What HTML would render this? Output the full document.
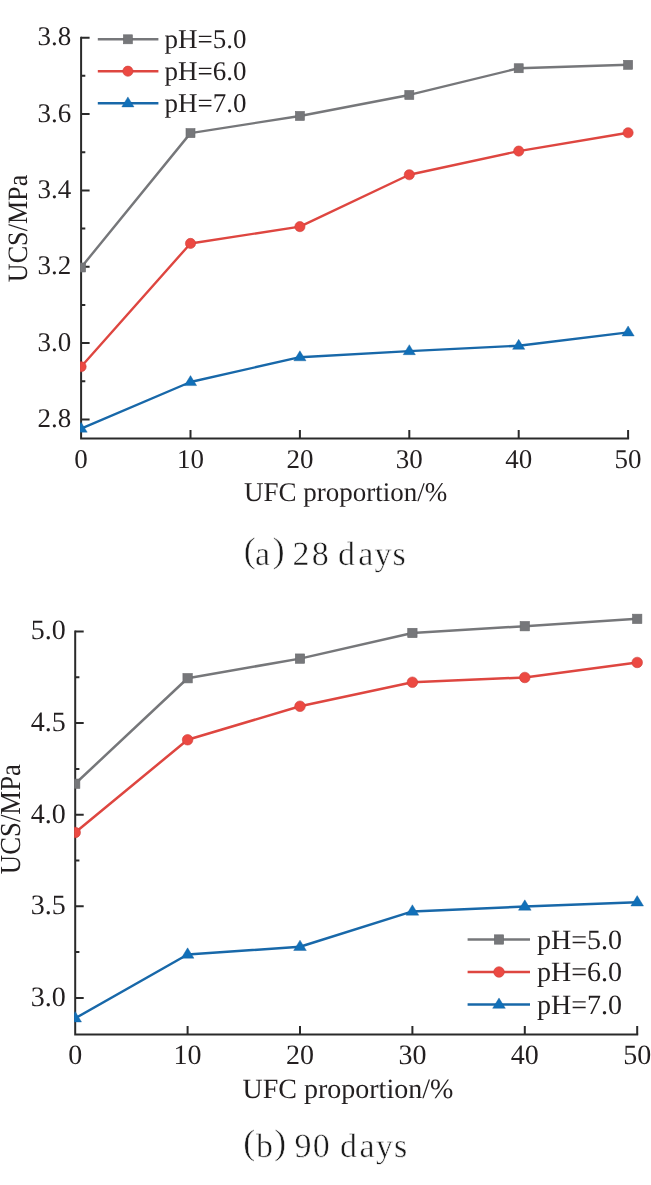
<!DOCTYPE html>
<html><head><meta charset="utf-8"><style>
html,body{margin:0;padding:0;background:#fff;}
body{width:651px;height:1185px;overflow:hidden;}
svg{display:block;will-change:transform;}
text{text-rendering:geometricPrecision;}
.t{font-family:"Liberation Serif",serif;font-size:27px;fill:#231f20;}
.cap{font-family:"Liberation Serif",serif;font-size:34px;fill:#1a1a1a;stroke:#fff;stroke-width:0.5px;}
</style></head><body>
<svg width="651" height="1185" viewBox="0 0 651 1185">
<rect width="651" height="1185" fill="#fff"/>
<clipPath id="ca"><rect x="80.1" y="0" width="577" height="439.6"/></clipPath>
<path d="M81.1,36.7 V438.6 H629.1" fill="none" stroke="#2a2a2a" stroke-width="2.0" stroke-linejoin="miter" stroke-linecap="butt"/>
<path d="M190.5,438.6 V430.1 M299.9,438.6 V430.1 M409.3,438.6 V430.1 M518.7,438.6 V430.1 M628.1,438.6 V430.1 M81.1,419.4 H89.6 M81.1,381.23 H85.3 M81.1,343.06 H89.6 M81.1,304.89 H85.3 M81.1,266.72 H89.6 M81.1,228.55 H85.3 M81.1,190.38 H89.6 M81.1,152.21 H85.3 M81.1,114.04 H89.6 M81.1,75.87 H85.3 M81.1,37.7 H89.6" stroke="#2a2a2a" stroke-width="2.0" fill="none"/>
<g clip-path="url(#ca)">
<polyline points="81.1,267.48 190.5,133.12 299.9,115.95 409.3,94.95 518.7,68.24 628.1,64.8" fill="none" stroke="#76777a" stroke-width="2.4" stroke-linejoin="round"/>
<polyline points="81.1,366.73 190.5,243.44 299.9,226.64 409.3,174.73 518.7,151.06 628.1,132.74" fill="none" stroke="#de4640" stroke-width="2.4" stroke-linejoin="round"/>
<polyline points="81.1,428.56 190.5,381.99 299.9,357.18 409.3,351.08 518.7,345.73 628.1,332.37" fill="none" stroke="#1868a9" stroke-width="2.4" stroke-linejoin="round"/>
<rect x="76.6" y="262.98" width="9" height="9" fill="#76777a" stroke="#6a6b6e" stroke-width="0.6"/>
<rect x="186" y="128.62" width="9" height="9" fill="#76777a" stroke="#6a6b6e" stroke-width="0.6"/>
<rect x="295.4" y="111.45" width="9" height="9" fill="#76777a" stroke="#6a6b6e" stroke-width="0.6"/>
<rect x="404.8" y="90.45" width="9" height="9" fill="#76777a" stroke="#6a6b6e" stroke-width="0.6"/>
<rect x="514.2" y="63.74" width="9" height="9" fill="#76777a" stroke="#6a6b6e" stroke-width="0.6"/>
<rect x="623.6" y="60.3" width="9" height="9" fill="#76777a" stroke="#6a6b6e" stroke-width="0.6"/>
<circle cx="81.1" cy="366.73" r="5.1" fill="#ec4942" stroke="#cc403a" stroke-width="0.6"/>
<circle cx="190.5" cy="243.44" r="5.1" fill="#ec4942" stroke="#cc403a" stroke-width="0.6"/>
<circle cx="299.9" cy="226.64" r="5.1" fill="#ec4942" stroke="#cc403a" stroke-width="0.6"/>
<circle cx="409.3" cy="174.73" r="5.1" fill="#ec4942" stroke="#cc403a" stroke-width="0.6"/>
<circle cx="518.7" cy="151.06" r="5.1" fill="#ec4942" stroke="#cc403a" stroke-width="0.6"/>
<circle cx="628.1" cy="132.74" r="5.1" fill="#ec4942" stroke="#cc403a" stroke-width="0.6"/>
<path d="M81.1,422.16 L87.2,432.16 L75,432.16 Z" fill="#1170b9" stroke="#175f9c" stroke-width="0.4" stroke-linejoin="miter"/>
<path d="M190.5,375.59 L196.6,385.59 L184.4,385.59 Z" fill="#1170b9" stroke="#175f9c" stroke-width="0.4" stroke-linejoin="miter"/>
<path d="M299.9,350.78 L306,360.78 L293.8,360.78 Z" fill="#1170b9" stroke="#175f9c" stroke-width="0.4" stroke-linejoin="miter"/>
<path d="M409.3,344.68 L415.4,354.68 L403.2,354.68 Z" fill="#1170b9" stroke="#175f9c" stroke-width="0.4" stroke-linejoin="miter"/>
<path d="M518.7,339.33 L524.8,349.33 L512.6,349.33 Z" fill="#1170b9" stroke="#175f9c" stroke-width="0.4" stroke-linejoin="miter"/>
<path d="M628.1,325.97 L634.2,335.97 L622,335.97 Z" fill="#1170b9" stroke="#175f9c" stroke-width="0.4" stroke-linejoin="miter"/>
</g>
<text x="81.1" y="467.8" text-anchor="middle" class="t" style="font-size:27px">0</text>
<text x="190.5" y="467.8" text-anchor="middle" class="t" style="font-size:27px">10</text>
<text x="299.9" y="467.8" text-anchor="middle" class="t" style="font-size:27px">20</text>
<text x="409.3" y="467.8" text-anchor="middle" class="t" style="font-size:27px">30</text>
<text x="518.7" y="467.8" text-anchor="middle" class="t" style="font-size:27px">40</text>
<text x="628.1" y="467.8" text-anchor="middle" class="t" style="font-size:27px">50</text>
<text x="71.2" y="427.1" text-anchor="end" class="t" style="font-size:27px">2.8</text>
<text x="71.2" y="350.76" text-anchor="end" class="t" style="font-size:27px">3.0</text>
<text x="71.2" y="274.42" text-anchor="end" class="t" style="font-size:27px">3.2</text>
<text x="71.2" y="198.08" text-anchor="end" class="t" style="font-size:27px">3.4</text>
<text x="71.2" y="121.74" text-anchor="end" class="t" style="font-size:27px">3.6</text>
<text x="71.2" y="45.4" text-anchor="end" class="t" style="font-size:27px">3.8</text>
<text x="244" y="500.5" class="t" style="font-size:27px">UFC proportion/%</text>
<text transform="translate(27.3,282.15) rotate(-90) scale(0.9326,1)" class="t" style="font-size:28px">UCS/MPa</text>
<line x1="97.8" y1="39.3" x2="158.4" y2="39.3" stroke="#76777a" stroke-width="2.4"/>
<rect x="123.4" y="34.8" width="9" height="9" fill="#76777a" stroke="#6a6b6e" stroke-width="0.6"/>
<text x="164.5" y="48" class="t" style="font-size:27px">pH=5.0</text>
<line x1="97.8" y1="71.2" x2="158.4" y2="71.2" stroke="#de4640" stroke-width="2.4"/>
<circle cx="127.9" cy="71.2" r="5.1" fill="#ec4942" stroke="#cc403a" stroke-width="0.6"/>
<text x="164.5" y="80" class="t" style="font-size:27px">pH=6.0</text>
<line x1="97.8" y1="103.3" x2="158.4" y2="103.3" stroke="#1868a9" stroke-width="2.4"/>
<path d="M127.9,96.9 L134,106.9 L121.8,106.9 Z" fill="#1170b9" stroke="#175f9c" stroke-width="0.4" stroke-linejoin="miter"/>
<text x="164.5" y="111.8" class="t" style="font-size:27px">pH=7.0</text>
<text x="243.8 272.81" y="561.6" class="cap" style="font-size:35.6px">()</text>
<text x="255.11 292.4 311.71 337.88 358.21 374.59 392.61" y="565" class="cap">a28days</text>
<clipPath id="cb"><rect x="74.2" y="0" width="592" height="1035.4"/></clipPath>
<path d="M75.2,630.5 V1034.4 H638.2" fill="none" stroke="#2a2a2a" stroke-width="2.0" stroke-linejoin="miter" stroke-linecap="butt"/>
<path d="M187.6,1034.4 V1025.9 M300,1034.4 V1025.9 M412.4,1034.4 V1025.9 M524.8,1034.4 V1025.9 M637.2,1034.4 V1025.9 M75.2,997.9 H83.7 M75.2,952.1 H79.4 M75.2,906.3 H83.7 M75.2,860.5 H79.4 M75.2,814.7 H83.7 M75.2,768.9 H79.4 M75.2,723.1 H83.7 M75.2,677.3 H79.4 M75.2,631.5 H83.7" stroke="#2a2a2a" stroke-width="2.0" fill="none"/>
<g clip-path="url(#cb)">
<polyline points="75.2,783.74 187.6,678.22 300,658.61 412.4,632.97 524.8,626.19 637.2,618.86" fill="none" stroke="#76777a" stroke-width="2.5" stroke-linejoin="round"/>
<polyline points="75.2,832.47 187.6,739.77 300,706.25 412.4,682.25 524.8,677.48 637.2,662.46" fill="none" stroke="#de4640" stroke-width="2.5" stroke-linejoin="round"/>
<polyline points="75.2,1018.24 187.6,954.48 300,946.79 412.4,911.43 524.8,906.48 637.2,902.27" fill="none" stroke="#1868a9" stroke-width="2.5" stroke-linejoin="round"/>
<rect x="70.52" y="779.06" width="9.36" height="9.36" fill="#76777a" stroke="#6a6b6e" stroke-width="0.6"/>
<rect x="182.92" y="673.54" width="9.36" height="9.36" fill="#76777a" stroke="#6a6b6e" stroke-width="0.6"/>
<rect x="295.32" y="653.93" width="9.36" height="9.36" fill="#76777a" stroke="#6a6b6e" stroke-width="0.6"/>
<rect x="407.72" y="628.29" width="9.36" height="9.36" fill="#76777a" stroke="#6a6b6e" stroke-width="0.6"/>
<rect x="520.12" y="621.51" width="9.36" height="9.36" fill="#76777a" stroke="#6a6b6e" stroke-width="0.6"/>
<rect x="632.52" y="614.18" width="9.36" height="9.36" fill="#76777a" stroke="#6a6b6e" stroke-width="0.6"/>
<circle cx="75.2" cy="832.47" r="5.3" fill="#ec4942" stroke="#cc403a" stroke-width="0.6"/>
<circle cx="187.6" cy="739.77" r="5.3" fill="#ec4942" stroke="#cc403a" stroke-width="0.6"/>
<circle cx="300" cy="706.25" r="5.3" fill="#ec4942" stroke="#cc403a" stroke-width="0.6"/>
<circle cx="412.4" cy="682.25" r="5.3" fill="#ec4942" stroke="#cc403a" stroke-width="0.6"/>
<circle cx="524.8" cy="677.48" r="5.3" fill="#ec4942" stroke="#cc403a" stroke-width="0.6"/>
<circle cx="637.2" cy="662.46" r="5.3" fill="#ec4942" stroke="#cc403a" stroke-width="0.6"/>
<path d="M75.2,1011.58 L81.54,1021.98 L68.86,1021.98 Z" fill="#1170b9" stroke="#175f9c" stroke-width="0.4" stroke-linejoin="miter"/>
<path d="M187.6,947.83 L193.94,958.23 L181.26,958.23 Z" fill="#1170b9" stroke="#175f9c" stroke-width="0.4" stroke-linejoin="miter"/>
<path d="M300,940.13 L306.34,950.53 L293.66,950.53 Z" fill="#1170b9" stroke="#175f9c" stroke-width="0.4" stroke-linejoin="miter"/>
<path d="M412.4,904.77 L418.74,915.17 L406.06,915.17 Z" fill="#1170b9" stroke="#175f9c" stroke-width="0.4" stroke-linejoin="miter"/>
<path d="M524.8,899.83 L531.14,910.23 L518.46,910.23 Z" fill="#1170b9" stroke="#175f9c" stroke-width="0.4" stroke-linejoin="miter"/>
<path d="M637.2,895.61 L643.54,906.01 L630.86,906.01 Z" fill="#1170b9" stroke="#175f9c" stroke-width="0.4" stroke-linejoin="miter"/>
</g>
<text x="75.2" y="1063.9" text-anchor="middle" class="t" style="font-size:28px">0</text>
<text x="187.6" y="1063.9" text-anchor="middle" class="t" style="font-size:28px">10</text>
<text x="300" y="1063.9" text-anchor="middle" class="t" style="font-size:28px">20</text>
<text x="412.4" y="1063.9" text-anchor="middle" class="t" style="font-size:28px">30</text>
<text x="524.8" y="1063.9" text-anchor="middle" class="t" style="font-size:28px">40</text>
<text x="637.2" y="1063.9" text-anchor="middle" class="t" style="font-size:28px">50</text>
<text x="65.8" y="1005.7" text-anchor="end" class="t" style="font-size:28px">3.0</text>
<text x="65.8" y="914.1" text-anchor="end" class="t" style="font-size:28px">3.5</text>
<text x="65.8" y="822.5" text-anchor="end" class="t" style="font-size:28px">4.0</text>
<text x="65.8" y="730.9" text-anchor="end" class="t" style="font-size:28px">4.5</text>
<text x="65.8" y="639.3" text-anchor="end" class="t" style="font-size:28px">5.0</text>
<text x="242.5" y="1098.2" class="t" style="font-size:28px">UFC proportion/%</text>
<text transform="translate(20,874.2) rotate(-90) scale(0.924,1)" class="t" style="font-size:29px">UCS/MPa</text>
<line x1="467.6" y1="939.5" x2="530" y2="939.5" stroke="#76777a" stroke-width="2.5"/>
<rect x="494.32" y="934.82" width="9.36" height="9.36" fill="#76777a" stroke="#6a6b6e" stroke-width="0.6"/>
<text x="537" y="948.8" class="t" style="font-size:28px">pH=5.0</text>
<line x1="467.6" y1="972" x2="530" y2="972" stroke="#de4640" stroke-width="2.5"/>
<circle cx="499" cy="972" r="5.3" fill="#ec4942" stroke="#cc403a" stroke-width="0.6"/>
<text x="537" y="981.3" class="t" style="font-size:28px">pH=6.0</text>
<line x1="467.6" y1="1004.6" x2="530" y2="1004.6" stroke="#1868a9" stroke-width="2.5"/>
<path d="M499,997.94 L505.34,1008.34 L492.66,1008.34 Z" fill="#1170b9" stroke="#175f9c" stroke-width="0.4" stroke-linejoin="miter"/>
<text x="537" y="1013.9" class="t" style="font-size:28px">pH=7.0</text>
<text x="243.3 274.21" y="1153.6" class="cap" style="font-size:35.6px">()</text>
<text x="255.9 294.61 312.71 339.88 359.51 375.89 393.91" y="1157.3" class="cap">b90days</text>
</svg>
</body></html>
